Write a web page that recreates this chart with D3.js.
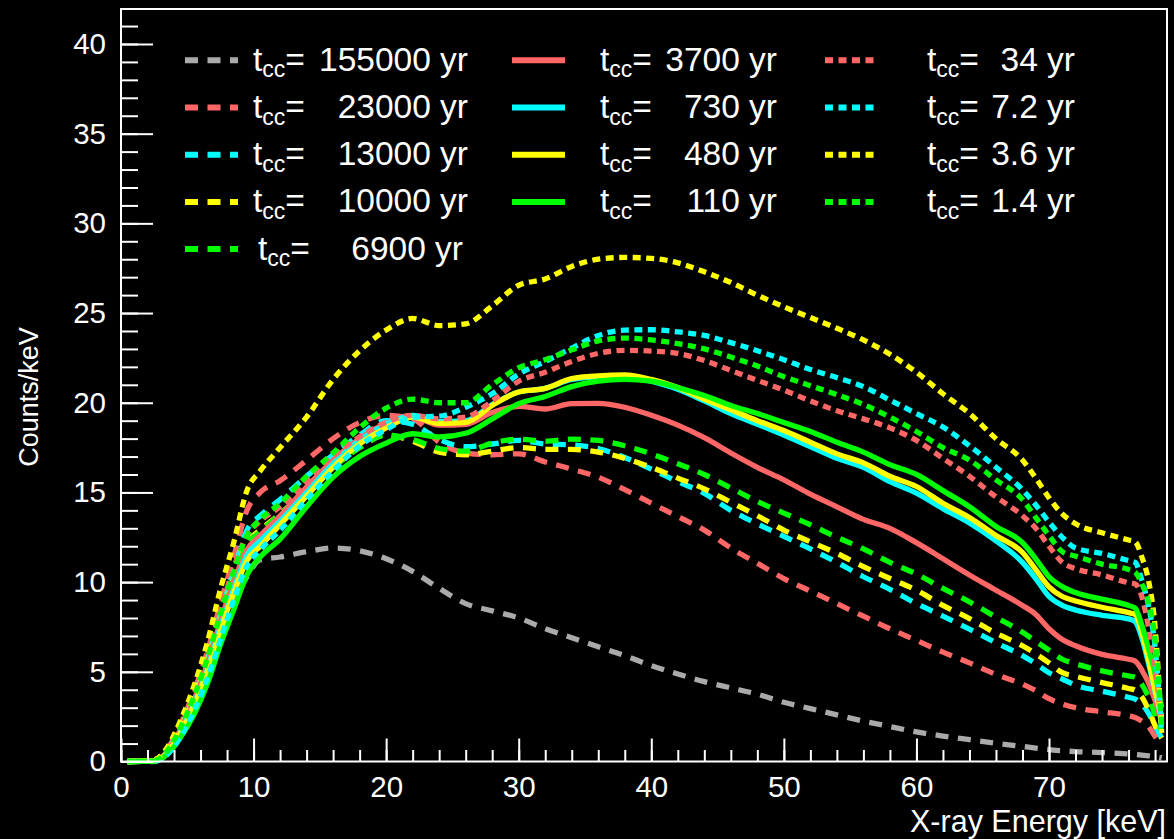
<!DOCTYPE html>
<html>
<head>
<meta charset="utf-8">
<script src="https://cdn.jsdelivr.net/npm/d3@7"></script>
<style>
  html, body { margin: 0; padding: 0; background: #000; }
  svg { display: block; }
  text { font-family: "Liberation Sans", Arial, Helvetica, sans-serif; fill: #fff; }
</style>
</head>
<body>
<svg id="chart" width="1174" height="839"></svg>
<script>
// Energy grid (keV) shared by every spectrum
const energyKeV = [0.5, 2.5, 3.5, 4.5, 5.5, 6.5, 7.5, 8.5, 9.5, 10.5,
  12, 14, 16, 18, 20, 22, 24, 26, 28, 30,
  32, 34, 36, 38, 40, 42, 44, 46, 48, 50,
  52, 54, 56, 58, 60, 62, 64, 66, 68, 69,
  70, 71, 72, 74, 76, 76.5, 77, 77.5, 78, 78.5];

// Counts/keV for each cooling time t_cc
const tcc155000 = [0, 0, 0.45, 1.5, 2.9, 4.7, 6.9, 8.9, 10.3, 11.25,
  11.4, 11.7, 11.9, 11.75, 11.3, 10.6, 9.65, 8.8, 8.4, 8.0,
  7.4, 6.9, 6.4, 5.9, 5.35, 4.88, 4.45, 4.1, 3.75, 3.3,
  2.95, 2.6, 2.25, 1.95, 1.65, 1.42, 1.22, 1.02, 0.84, 0.75,
  0.66, 0.6, 0.55, 0.5, 0.42, 0.4, 0.36, 0.32, 0.27, 0.2];
const tcc23000 = [0, 0.05, 0.7, 2.1, 3.9, 6.1, 8.8, 11.4, 14.0, 15.0,
  15.65, 16.8, 18.0, 18.9, 19.3, 19.1, 17.8, 17.2, 17.1, 17.15,
  16.7, 16.3, 15.85, 15.15, 14.4, 13.65, 12.9, 11.9, 11.05, 10.2,
  9.5, 8.8, 8.1, 7.4, 6.75, 6.1, 5.5, 4.85, 4.3, 3.95,
  3.5, 3.2, 3.0, 2.77, 2.55, 2.45, 2.25, 1.95, 1.4, 0.9];
const tcc13000 = [0, 0.05, 0.6, 1.9, 3.6, 5.7, 8.2, 10.6, 12.9, 13.7,
  14.6, 15.9, 17.1, 18.2, 19.0, 18.8, 17.95, 17.55, 17.7, 17.9,
  17.7, 17.65, 17.45, 16.95, 16.3, 15.6, 14.95, 14.0, 13.25, 12.55,
  11.85, 11.1, 10.3, 9.6, 8.8, 8.1, 7.38, 6.62, 5.9, 5.45,
  4.95, 4.6, 4.25, 3.92, 3.58, 3.48, 3.2, 2.7, 2.0, 1.3];
const tcc10000 = [0, 0.03, 0.6, 1.9, 3.5, 5.5, 7.9, 10.2, 12.2, 12.9,
  13.8, 15.1, 16.4, 17.5, 18.2, 17.85, 17.25, 17.1, 17.3, 17.5,
  17.4, 17.4, 17.25, 16.9, 16.4, 15.8, 15.2, 14.45, 13.7, 12.9,
  12.25, 11.6, 10.87, 10.2, 9.55, 8.7, 7.97, 7.15, 6.45, 6.0,
  5.5, 4.95, 4.75, 4.4, 4.07, 3.97, 3.6, 2.9, 2.0, 1.3];
const tcc6900 = [0, 0.03, 0.55, 1.8, 3.4, 5.4, 7.8, 10.1, 12.1, 12.8,
  13.8, 15.1, 16.4, 17.5, 18.2, 17.95, 17.45, 17.3, 17.75, 17.97,
  17.85, 17.97, 17.9, 17.6, 17.15, 16.6, 16.0, 15.25, 14.5, 13.85,
  13.2, 12.5, 11.85, 11.1, 10.45, 9.65, 8.9, 8.05, 7.2, 6.7,
  6.2, 5.7, 5.45, 5.05, 4.77, 4.7, 4.3, 3.6, 2.6, 1.7];
const tcc3700 = [0, 0.03, 0.55, 1.8, 3.4, 5.4, 7.8, 10.0, 11.8, 12.6,
  13.7, 15.3, 16.8, 18.0, 18.85, 19.2, 18.75, 18.8, 19.45, 19.8,
  19.65, 19.95, 19.97, 19.75, 19.3, 18.75, 18.05, 17.2, 16.4, 15.7,
  14.9, 14.2, 13.5, 13.0, 12.2, 11.3, 10.4, 9.55, 8.7, 8.2,
  7.4, 6.8, 6.45, 5.97, 5.7, 5.6, 5.1, 4.4, 3.4, 2.2];
const tcc730 = [0, 0.03, 0.5, 1.65, 3.2, 5.1, 7.5, 9.6, 11.5, 12.3,
  13.4, 15.0, 16.6, 17.9, 18.8, 19.3, 18.95, 19.0, 19.9, 20.6,
  20.8, 21.3, 21.45, 21.5, 21.2, 20.75, 20.1, 19.4, 18.8, 18.2,
  17.55, 16.9, 16.4, 15.6, 14.96, 14.1, 13.3, 12.3, 11.1, 10.2,
  9.2, 8.7, 8.45, 8.15, 7.95, 7.8, 6.9, 5.5, 3.9, 2.4];
const tcc480 = [0, 0.03, 0.5, 1.6, 3.1, 5.0, 7.3, 9.4, 11.2, 12.0,
  13.2, 14.8, 16.4, 17.7, 18.6, 19.2, 18.85, 18.9, 19.85, 20.6,
  20.8, 21.35, 21.5, 21.55, 21.3, 20.85, 20.2, 19.6, 19.0, 18.45,
  17.8, 17.15, 16.65, 15.9, 15.33, 14.4, 13.6, 12.6, 11.65, 10.7,
  9.74, 9.2, 8.95, 8.6, 8.3, 8.2, 7.2, 5.7, 4.0, 2.5];
const tcc110 = [0, 0.02, 0.4, 1.35, 2.6, 4.3, 6.5, 8.45, 10.4, 11.4,
  12.4, 14.2, 15.85, 17.0, 17.75, 18.27, 18.1, 18.3, 19.1, 19.95,
  20.35, 20.9, 21.2, 21.3, 21.2, 20.85, 20.4, 19.85, 19.4, 18.9,
  18.4, 17.8, 17.25, 16.55, 16.0, 15.1, 14.2, 13.1, 12.2, 11.3,
  10.3, 9.75, 9.42, 9.05, 8.7, 8.55, 7.6, 6.3, 4.9, 3.0];
const tcc34 = [0, 0.05, 0.65, 2.0, 3.75, 5.9, 8.4, 10.8, 12.6, 13.4,
  14.2, 15.6, 17.0, 18.1, 18.9, 19.3, 19.1, 19.2, 20.1, 21.2,
  21.7, 22.3, 22.75, 22.92, 22.88, 22.75, 22.35, 21.8, 21.25, 20.7,
  20.1, 19.55, 19.1, 18.6, 17.9, 16.9, 15.9, 14.75, 13.7, 13.0,
  12.0, 11.1, 10.75, 10.4, 9.97, 9.9, 9.2, 7.5, 5.3, 2.0];
const tcc7p2 = [0, 0.02, 0.4, 1.4, 2.8, 4.6, 6.8, 9.0, 10.9, 11.8,
  12.9, 14.6, 16.2, 17.6, 18.5, 19.2, 19.25, 19.75, 20.5, 21.6,
  22.3, 23.05, 23.75, 24.05, 24.07, 23.95, 23.75, 23.35, 22.9, 22.4,
  21.85, 21.4, 20.9, 20.15, 19.4, 18.65, 17.6, 16.4, 15.15, 14.3,
  13.35, 12.5, 11.9, 11.6, 11.2, 11.1, 10.1, 8.7, 6.4, 1.6];
const tcc3p6 = [0, 0.1, 0.8, 2.3, 4.2, 6.6, 9.6, 12.2, 15.1, 16.2,
  17.5, 19.2, 21.3, 22.9, 24.05, 24.7, 24.3, 24.4, 25.4, 26.55,
  26.9, 27.6, 28.0, 28.1, 28.05, 27.8, 27.3, 26.7, 26.0, 25.35,
  24.75, 24.15, 23.5, 22.7, 21.7, 20.5, 19.4, 18.0, 16.8, 15.8,
  14.7, 13.8, 13.25, 12.75, 12.35, 12.25, 11.4, 10.1, 7.5, 1.6];
const tcc1p4 = [0, 0.04, 0.6, 1.9, 3.6, 5.7, 8.2, 10.6, 12.6, 13.5,
  14.4, 15.9, 17.2, 18.6, 19.7, 20.2, 20.0, 20.0, 21.0, 21.95,
  22.4, 22.95, 23.45, 23.6, 23.5, 23.3, 23.0, 22.55, 22.05, 21.45,
  20.95, 20.45, 19.9, 19.2, 18.4, 17.5, 16.8, 15.7, 14.6, 13.6,
  12.6, 11.7, 11.45, 11.0, 10.7, 10.55, 9.9, 8.9, 6.8, 2.0];

// Legend text (cooling time values, in years)
const tccLabels = ["155000", "23000", "13000", "10000", "6900",
  "3700", "730", "480", "110",
  "34", "7.2", "3.6", "1.4"];

// Axis ticks
const xMajorTicks = [0, 10, 20, 30, 40, 50, 60, 70];
const xMinorTicks = d3.range(0, 79, 2);
const yMajorTicks = [0, 5, 10, 15, 20, 25, 30, 35, 40];
const yMinorTicks = d3.range(0, 42, 1);

const palette = { gray: "#aaaaaa", red: "#ff6666", cyan: "#00ffff", yellow: "#ffff00", green: "#00ff00" };
const dashFor = { dashed: "13,9.5", solid: null, dotted: "8,5.5" };

const series = [
  { values: tcc155000, color: palette.gray,   style: "dashed", col: 0 },
  { values: tcc23000,  color: palette.red,    style: "dashed", col: 0 },
  { values: tcc13000,  color: palette.cyan,   style: "dashed", col: 0 },
  { values: tcc10000,  color: palette.yellow, style: "dashed", col: 0 },
  { values: tcc6900,   color: palette.green,  style: "dashed", col: 0 },
  { values: tcc3700,   color: palette.red,    style: "solid",  col: 1 },
  { values: tcc730,    color: palette.cyan,   style: "solid",  col: 1 },
  { values: tcc480,    color: palette.yellow, style: "solid",  col: 1 },
  { values: tcc110,    color: palette.green,  style: "solid",  col: 1 },
  { values: tcc34,     color: palette.red,    style: "dotted", col: 2 },
  { values: tcc7p2,    color: palette.cyan,   style: "dotted", col: 2 },
  { values: tcc3p6,    color: palette.yellow, style: "dotted", col: 2 },
  { values: tcc1p4,    color: palette.green,  style: "dotted", col: 2 }
].map((s, i) => ({ ...s, label: tccLabels[i] }));

const svg = d3.select("#chart");
svg.append("rect").attr("width", 1174).attr("height", 839).attr("fill", "#000");

const frame = { left: 121, right: 1167, top: 9, bottom: 761.5 };
const x = d3.scaleLinear().domain([0, 78.9]).range([frame.left, frame.right]);
const y = d3.scaleLinear().domain([0, 41.95]).range([frame.bottom, frame.top]);

// Spectra
const line = d3.line()
  .x((d, i) => x(energyKeV[i]))
  .y(d => y(d))
  .curve(d3.curveMonotoneX);

const plot = svg.append("g");
series.forEach(s => {
  plot.append("path")
    .datum(s.values)
    .attr("d", line)
    .attr("fill", "none")
    .attr("stroke", s.color)
    .attr("stroke-width", 5.3)
    .attr("stroke-linejoin", "round")
    .attr("stroke-dasharray", dashFor[s.style]);
});

// Axes with inward ticks
function styleAxis(g) {
  g.select(".domain").remove();
  g.selectAll(".tick line").attr("stroke", "#fff").attr("stroke-width", 2);
  g.selectAll(".tick text").attr("fill", "#fff").attr("font-size", 29.5)
    .attr("font-family", "\"Liberation Sans\", Arial, sans-serif");
}

svg.append("g").attr("transform", `translate(0,${frame.bottom})`)
  .call(d3.axisBottom(x).tickValues(xMinorTicks).tickSizeInner(-11.5).tickSizeOuter(0).tickFormat(""))
  .call(styleAxis);
svg.append("g").attr("transform", `translate(0,${frame.bottom})`)
  .call(d3.axisBottom(x).tickValues(xMajorTicks).tickSizeInner(-23).tickSizeOuter(0).tickPadding(15).tickFormat(d3.format("d")))
  .call(styleAxis);

svg.append("g").attr("transform", `translate(${frame.left},0)`)
  .call(d3.axisLeft(y).tickValues(yMinorTicks).tickSizeInner(-17).tickSizeOuter(0).tickFormat(""))
  .call(styleAxis);
svg.append("g").attr("transform", `translate(${frame.left},0)`)
  .call(d3.axisLeft(y).tickValues(yMajorTicks).tickSizeInner(-32).tickSizeOuter(0).tickPadding(15).tickFormat(d3.format("d")))
  .call(styleAxis);

// Frame
svg.append("rect")
  .attr("x", frame.left).attr("y", frame.top)
  .attr("width", frame.right - frame.left).attr("height", frame.bottom - frame.top)
  .attr("fill", "none").attr("stroke", "#fff").attr("stroke-width", 2);

// Axis titles
svg.append("text")
  .attr("x", 1166).attr("y", 832)
  .attr("text-anchor", "end").attr("font-size", 30.5)
  .text("X-ray Energy [keV]");
svg.append("text")
  .attr("transform", "translate(38,397) rotate(-90)")
  .attr("text-anchor", "middle").attr("font-size", 27)
  .text("Counts/keV");

// Legend
const legendCols = [
  { x1: 185, x2: 238, tx: 253, vx: 468 },
  { x1: 512, x2: 565, tx: 600, vx: 777 },
  { x1: 825, x2: 876, tx: 927, vx: 1075 }
];
const rowY0 = 60.3, rowStep = 47.2;
const legend = svg.append("g");
const rowInCol = [0, 0, 0];
series.forEach(s => {
  const c = legendCols[s.col];
  const r = rowInCol[s.col]++;
  const yy = rowY0 + r * rowStep;
  const shift = (s.label === "6900") ? 5 : 0;
  legend.append("line")
    .attr("x1", c.x1).attr("x2", c.x2).attr("y1", yy).attr("y2", yy)
    .attr("stroke", s.color).attr("stroke-width", 6)
    .attr("stroke-dasharray", dashFor[s.style]);
  const t = legend.append("text")
    .attr("x", c.tx + shift).attr("y", yy + 10.5).attr("font-size", 33.5);
  t.append("tspan").text("t");
  t.append("tspan").attr("font-size", 23).attr("dy", 6.5).text("cc");
  t.append("tspan").attr("font-size", 33.5).attr("dy", -6.5).text("=");
  legend.append("text")
    .attr("x", c.vx - shift).attr("y", yy + 10.5).attr("font-size", 33.5)
    .attr("text-anchor", "end")
    .text(s.label + " yr");
});
</script>
</body>
</html>
